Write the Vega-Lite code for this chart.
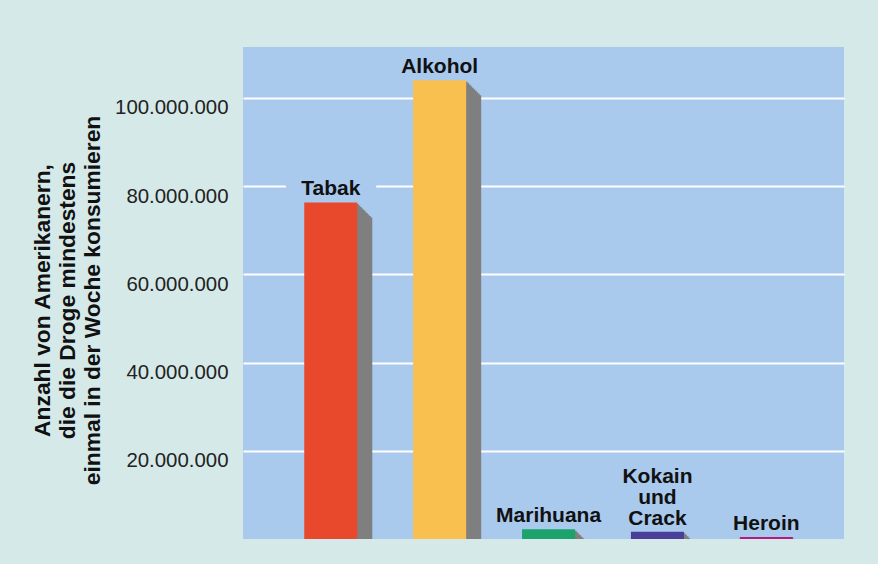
{
  "$schema": "https://vega.github.io/schema/vega-lite/v6.json",
  "width": 601,
  "height": 492,
  "autosize": "none",
  "padding": {"left": 243, "top": 47, "right": 34, "bottom": 25},
  "background": "#d6e9e9",
  "config": {"view": {"fill": "#a9c9ed", "stroke": null}, "font": "Liberation Sans"},
  "data": {"values": [
    {"drug": "Tabak", "label": ["Tabak"], "value": 76300000},
    {"drug": "Alkohol", "label": ["Alkohol"], "value": 104000000},
    {"drug": "Marihuana", "label": ["Marihuana"], "value": 2200000},
    {"drug": "Kokain und Crack", "label": ["Kokain", "und", "Crack"], "value": 1650000},
    {"drug": "Heroin", "label": ["Heroin"], "value": 450000}
  ]},
  "encoding": {
    "x": {"field": "drug", "type": "nominal", "sort": null,
      "scale": {"paddingInner": 0.513, "paddingOuter": 0.516, "align": 0.545}, "axis": null},
    "y": {"field": "value", "type": "quantitative",
      "scale": {"domain": [0, 111550000], "nice": false, "zero": true},
      "axis": {
        "values": [20000000, 40000000, 60000000, 80000000, 100000000],
        "labelExpr": "replace(replace(format(datum.value, ','), ',', '.'), ',', '.')",
        "title": ["Anzahl von Amerikanern,", "die die Droge mindestens", "einmal in der Woche konsumieren"],
        "titleFontSize": 22.8, "titleFontWeight": "bold", "titleLineHeight": 25,
        "titleAngle": -90, "titleX": -201, "titleY": 253, "titleAlign": "center", "titleBaseline": "middle",
        "titleColor": "#111111",
        "labelFontSize": 20.4, "labelColor": "#222222", "labelPadding": 15, "labelBaseline": "top",
        "ticks": false, "domain": false, "grid": true, "gridColor": "#ffffff", "gridWidth": 2, "gridOpacity": 1
      }}
  },
  "layer": [
    {"transform": [{"filter": "datum.drug == 'Tabak'"}],
     "mark": {"type": "text", "fontSize": 21, "fontWeight": "bold", "baseline": "alphabetic", "dy": -7,
       "fill": "#a9c9ed", "stroke": "#a9c9ed", "strokeWidth": 32, "strokeJoin": "round"},
     "encoding": {"text": {"field": "label"}}},
    {"mark": {"type": "bar", "color": "#7f7f7f", "clip": true, "xOffset": 1.5, "x2Offset": 1.5, "yOffset": 1.5, "y2Offset": 1.5}},
    {"mark": {"type": "bar", "color": "#7f7f7f", "clip": true, "xOffset": 3, "x2Offset": 3, "yOffset": 3, "y2Offset": 3}},
    {"mark": {"type": "bar", "color": "#7f7f7f", "clip": true, "xOffset": 4.5, "x2Offset": 4.5, "yOffset": 4.5, "y2Offset": 4.5}},
    {"mark": {"type": "bar", "color": "#7f7f7f", "clip": true, "xOffset": 6, "x2Offset": 6, "yOffset": 6, "y2Offset": 6}},
    {"mark": {"type": "bar", "color": "#7f7f7f", "clip": true, "xOffset": 7.5, "x2Offset": 7.5, "yOffset": 7.5, "y2Offset": 7.5}},
    {"mark": {"type": "bar", "color": "#7f7f7f", "clip": true, "xOffset": 9, "x2Offset": 9, "yOffset": 9, "y2Offset": 9}},
    {"mark": {"type": "bar", "color": "#7f7f7f", "clip": true, "xOffset": 10.5, "x2Offset": 10.5, "yOffset": 10.5, "y2Offset": 10.5}},
    {"mark": {"type": "bar", "color": "#7f7f7f", "clip": true, "xOffset": 12, "x2Offset": 12, "yOffset": 12, "y2Offset": 12}},
    {"mark": {"type": "bar", "color": "#7f7f7f", "clip": true, "xOffset": 13.5, "x2Offset": 13.5, "yOffset": 13.5, "y2Offset": 13.5}},
    {"mark": {"type": "bar", "color": "#7f7f7f", "clip": true, "xOffset": 15, "x2Offset": 15, "yOffset": 15, "y2Offset": 15}},
    {"mark": {"type": "bar", "clip": true},
     "encoding": {"color": {"field": "drug", "type": "nominal", "legend": null,
       "scale": {"domain": ["Tabak", "Alkohol", "Marihuana", "Kokain und Crack", "Heroin"],
                 "range": ["#e8482c", "#f9c04f", "#1ba36b", "#4a3f98", "#b51a80"]}}}},
    {"transform": [{"filter": "datum.drug != 'Kokain und Crack'"}],
     "mark": {"type": "text", "fontSize": 21, "fontWeight": "bold", "baseline": "alphabetic", "dy": -7,
       "lineHeight": 21, "color": "#111111"},
     "encoding": {"text": {"field": "label"}}},
    {"transform": [{"filter": "datum.drug == 'Kokain und Crack'"}],
     "mark": {"type": "text", "fontSize": 21, "fontWeight": "bold", "baseline": "alphabetic", "dy": -49,
       "lineHeight": 21, "color": "#111111"},
     "encoding": {"text": {"field": "label"}}}
  ]
}
